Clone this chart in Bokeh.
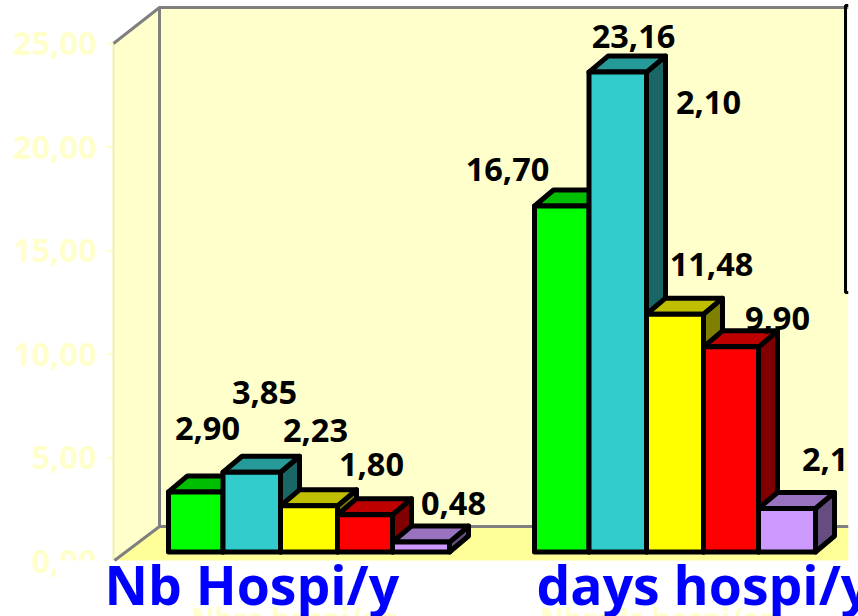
from bokeh.core.properties import value
from bokeh.embed import file_html
from bokeh.models import ColumnDataSource, Range1d
from bokeh.plotting import figure
from bokeh.resources import INLINE

# Chart values
categories = ["Nb Hospi/y", "days hospi/y"]
axis_titles = ["Nbre hospi/an", "Nbre Js hospi/an"]
nb_hospi = [2.90, 3.85, 2.23, 1.80, 0.48]
days_hospi = [16.70, 23.16, 11.48, 9.90, 2.10]
tick_values = [0, 5, 10, 15, 20, 25]

# Series colours: front, top and side faces of each block
front_colors = ["#00FF00", "#33CCCC", "#FFFF00", "#FF0000", "#CC99FF"]
top_colors = ["#00BF00", "#269999", "#BFBF00", "#BF0000", "#9973BF"]
side_colors = ["#008000", "#1A6666", "#808000", "#800000", "#664D80"]

# Layout, in page pixels
W, H = 858, 616
BASE_PX = 551.5
PX_PER_UNIT = 20.72
AXIS_ZERO_PX = 561
GROUP_LEFT = [168, 534]
SLOT_WIDTHS = [54.5, 57.5, 57, 55, 57]
DEPTH_X, DEPTH_Y_PX = 19, 16
DEPTH_Y = DEPTH_Y_PX / PX_PER_UNIT

# Label anchors in page pixels (centre x, centre y)
nb_label_pos = [(207, 428), (264, 392), (315, 430), (371, 464), (453, 503)]
days_label_pos = [(507, 169), (633, 36), (711, 264), (777, 318), (834, 459)]
stray_label_pos = (708, 102)


def fmt(v):
    return f"{v:.2f}".replace(".", ",")


p = figure(
    width=W, height=H, output_backend="svg", toolbar_location=None,
    x_range=Range1d(0, W), y_range=Range1d(H, 0),
    min_border=0, outline_line_color=None, background_fill_color="white",
    border_fill_color="white",
)
p.axis.visible = False
p.grid.visible = False

# Value scales: one for the blocks, one for the wall's tick marks
p.extra_y_ranges = {
    "value": Range1d((BASE_PX - H) / PX_PER_UNIT, BASE_PX / PX_PER_UNIT),
    "wall": Range1d((AXIS_ZERO_PX - H) / PX_PER_UNIT, AXIS_ZERO_PX / PX_PER_UNIT),
}

LABEL_FONT = value("Open Sans")
PALE = "#FFFFCC"
GRAY = "#808080"

# Tick labels sit under the chart walls
p.text(
    x=[96] * len(tick_values), y=tick_values, y_range_name="wall",
    text=[fmt(v) for v in tick_values], text_font=LABEL_FONT, text_font_size="32.5px",
    text_font_style="bold", text_color=PALE, text_align="right", text_baseline="middle",
)
p.segment(x0=[106] * len(tick_values), x1=[113] * len(tick_values), y0=tick_values,
          y1=tick_values, y_range_name="wall", line_color=PALE, line_width=2)

# White band hiding the lower part of the zero label, below the floor
p.quad(left=[55], right=[W], top=[560], bottom=[H], fill_color="white", line_color=None)

# Walls and floor
p.patch([113, 159, 159, 113], [43, 7, 526, 560], fill_color=PALE, line_color=None)
p.quad(left=[159], right=[848], top=[7], bottom=[526], fill_color=PALE, line_color=None)
p.patch([113, 159, 848, 848], [560, 526, 526, 560], fill_color="#FFFF99", line_color=None)
p.line([113, 113], [43, 560], line_color="#EEEEB4", line_width=2)
p.line([113, 159, 848], [43, 7, 7], line_color=GRAY, line_width=3)
p.line([159, 159], [7, 526], line_color=GRAY, line_width=3)
p.line([114, 159, 848], [560, 526, 526], line_color=GRAY, line_width=3)

# Edge of the key box at the right
p.line([848, 845, 845, 848], [5, 5, 292, 292], line_color="black", line_width=3)

# Blocks, drawn left to right so each one overlaps its left neighbour
for left, series in zip(GROUP_LEFT, [nb_hospi, days_hospi]):
    x0 = left
    for i, v in enumerate(series):
        x1 = x0 + SLOT_WIDTHS[i]
        style = dict(y_range_name="value", line_color="black", line_width=5,
                     line_join="round")
        p.patch([x1, x1 + DEPTH_X, x1 + DEPTH_X, x1],
                [0, DEPTH_Y, v + DEPTH_Y, v], fill_color=side_colors[i], **style)
        p.patch([x0, x0 + DEPTH_X, x1 + DEPTH_X, x1],
                [v, v + DEPTH_Y, v + DEPTH_Y, v], fill_color=top_colors[i], **style)
        p.patch([x0, x1, x1, x0], [0, 0, v, v], fill_color=front_colors[i], **style)
        x0 = x1

# Value labels
pos = nb_label_pos + days_label_pos + [stray_label_pos]
texts = [fmt(v) for v in nb_hospi + days_hospi] + [fmt(days_hospi[4])]
p.text(
    source=ColumnDataSource(dict(x=[a for a, _ in pos], y=[b for _, b in pos], t=texts)),
    x="x", y="y", text="t", text_font=LABEL_FONT, text_font_size="32.5px",
    text_font_style="bold", text_color="black", text_align="center", text_baseline="middle",
)

# Everything to the right of the plot area is blank
p.quad(left=[848], right=[W], top=[0], bottom=[H], fill_color="white", line_color=None)

# Faint axis titles, mostly covered by the blue category names
p.text(x=[294, 659], y=[617, 617], text=axis_titles, text_font=LABEL_FONT,
       text_font_size="29px", text_font_style="bold", text_color=PALE,
       text_align="center", text_baseline="middle")

# Category names
p.text(x=[104, 536], y=[584, 584], text=categories, text_font=LABEL_FONT,
       text_font_size="53.5px", text_font_style="bold", text_color="#0000FF",
       text_align="left", text_baseline="middle")

open("out.html", "w").write(file_html(p, INLINE))
